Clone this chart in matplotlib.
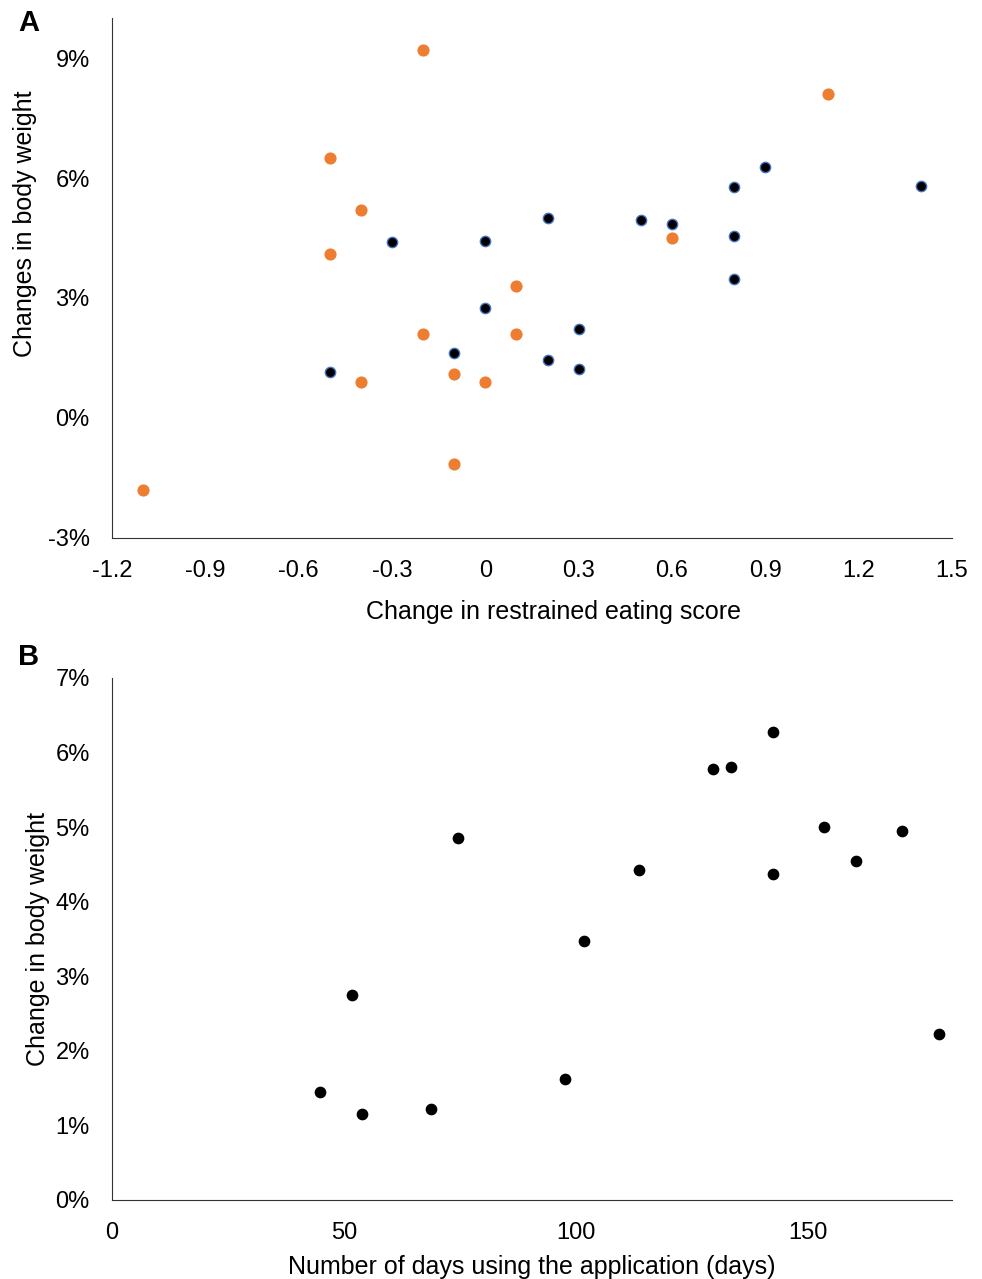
import numpy as np
import matplotlib.pyplot as plt
from matplotlib.ticker import FuncFormatter

plt.rcParams['font.family'] = ['Liberation Sans', 'DejaVu Sans']

# panel A, orange group
orange_x = [-1.1, -0.2, -0.5, -0.4, -0.5, -0.2, -0.4, -0.1, -0.1, 0.0, 0.1, 0.1, 0.6, 1.1]
orange_y = [-1.8, 9.2, 6.5, 5.2, 4.1, 2.1, 0.9, 1.1, -1.15, 0.9, 3.3, 2.1, 4.5, 8.1]

# panel A, black group
black_x = [-0.5, -0.3, -0.1, 0.0, 0.0, 0.2, 0.2, 0.3, 0.3, 0.5, 0.6, 0.8, 0.8, 0.8, 0.9, 1.4]
black_y = [1.15, 4.4, 1.625, 4.425, 2.75, 5.0, 1.45, 2.225, 1.225, 4.95, 4.85, 5.775, 4.55, 3.475, 6.275, 5.8]

# panel B
days = [44.8, 51.7, 53.9, 68.75, 74.6, 97.6, 101.7, 113.6, 129.5, 133.4, 142.5, 142.5, 153.4, 160.3, 170.3, 178.2]
weight = [1.45, 2.75, 1.15, 1.225, 4.85, 1.625, 3.475, 4.425, 5.775, 5.8, 6.275, 4.375, 5.0, 4.55, 4.95, 2.225]

fs = 18
tfs = 17
fig = plt.figure(figsize=(9.82, 12.79), dpi=100)

ax1 = fig.add_axes([0.114, 0.5794, 0.8555, 0.4065])
ax1.scatter(orange_x, orange_y, s=60, color='#ED7D31', zorder=3)
ax1.scatter(black_x, black_y, s=55, color='black', edgecolor='#4472C4', linewidth=1, zorder=3)
ax1.set_xlim(-1.2, 1.5)
ax1.set_ylim(-3, 10)
ax1.set_xticks(np.arange(-1.2, 1.51, 0.3))
ax1.set_xticklabels(['-1.2', '-0.9', '-0.6', '-0.3', '0', '0.3', '0.6', '0.9', '1.2', '1.5'])
ax1.set_yticks([-3, 0, 3, 6, 9])
ax1.yaxis.set_major_formatter(FuncFormatter(lambda v, p: '%d%%' % v))
ax1.set_xlabel('Change in restrained eating score', fontsize=fs, labelpad=13)
ax1.xaxis.label.set_x(0.525)
ax1.set_ylabel('Changes in body weight', fontsize=fs, labelpad=7.5)
ax1.yaxis.label.set_y(0.604)
ax1.text(-0.112, 0.99, 'A', transform=ax1.transAxes, fontsize=21, fontweight='bold', va='center')

ax2 = fig.add_axes([0.114, 0.0618, 0.8555, 0.4081])
ax2.scatter(days, weight, s=55, color='black', zorder=3)
ax2.set_xlim(0, 181)
ax2.set_ylim(0, 7)
ax2.set_xticks([0, 50, 100, 150])
ax2.set_yticks(range(0, 8))
ax2.yaxis.set_major_formatter(FuncFormatter(lambda v, p: '%d%%' % v))
ax2.set_xlabel('Number of days using the application (days)', fontsize=fs, labelpad=8)
ax2.set_ylabel('Change in body weight', fontsize=fs, labelpad=4)
ax2.text(-0.112, 1.04, 'B', transform=ax2.transAxes, fontsize=21, fontweight='bold', va='center')

for ax in (ax1, ax2):
    for side in ('top', 'right'):
        ax.spines[side].set_visible(False)
    ax.spines['left'].set_color('#333333')
    ax.spines['bottom'].set_color('#333333')
    ax.tick_params(length=0, labelsize=tfs, pad=16)

fig.savefig('out.png', dpi=100)
